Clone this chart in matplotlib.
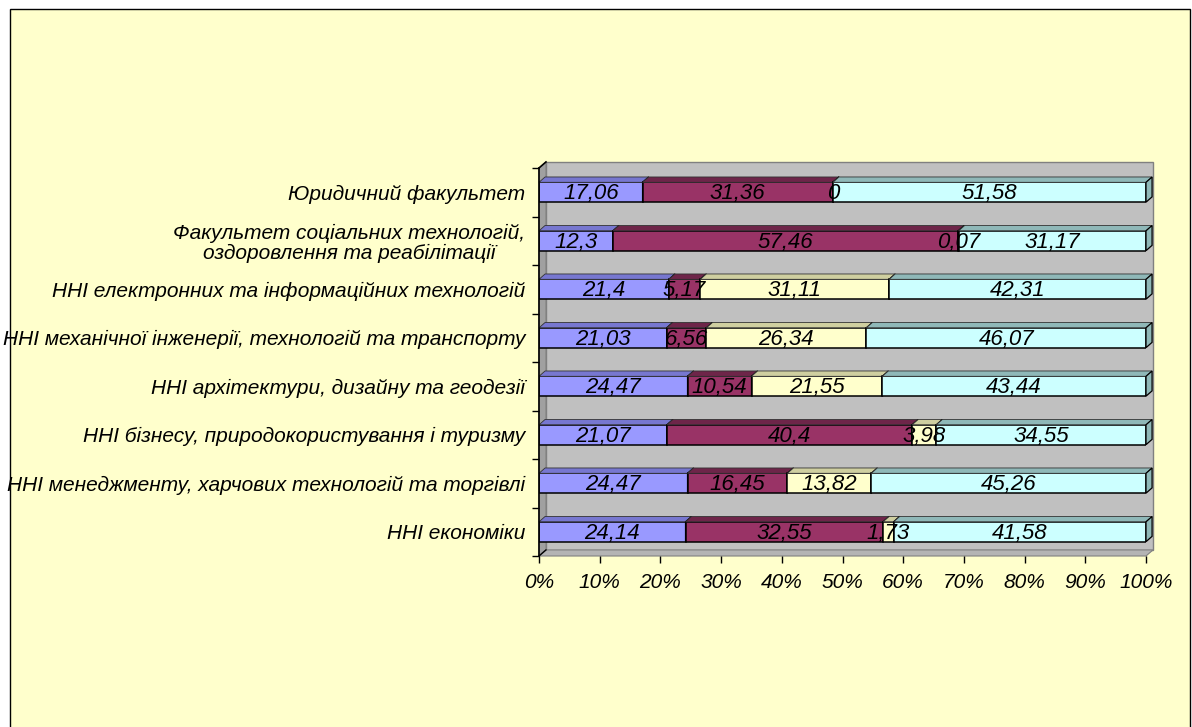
import matplotlib.pyplot as plt
import numpy as np
import matplotlib.patches as mpatches

# Daten (Werte in %, Reihenfolge von oben nach unten)
categories = [
    "Юридичний факультет",
    "Факультет соціальних технологій,\nоздоровлення та реабілітації",
    "ННІ електронних та інформаційних технологій",
    "ННІ механічної інженерії, технологій та транспорту",
    "ННІ архітектури, дизайну та геодезії",
    "ННІ бізнесу, природокористування і туризму",
    "ННІ менеджменту, харчових технологій та торгівлі",
    "ННІ економіки",
]
series_1 = [17.06, 12.3, 21.4, 21.03, 24.47, 21.07, 24.47, 24.14]
series_2 = [31.36, 57.46, 5.17, 6.56, 10.54, 40.4, 16.45, 32.55]
series_3 = [0, 0.07, 31.11, 26.34, 21.55, 3.98, 13.82, 1.73]
series_4 = [51.58, 31.17, 42.31, 46.07, 43.44, 34.55, 45.26, 41.58]
x_ticks = [0, 10, 20, 30, 40, 50, 60, 70, 80, 90, 100]

front_colors = ['#9999FF', '#993366', '#FFFFCC', '#CCFFFF']
top_colors = ['#7777D0', '#6E2549', '#CFCFA0', '#8FB8B8']

plt.rcParams['font.family'] = ['Liberation Sans', 'DejaVu Sans']
plt.rcParams['font.style'] = 'italic'
FS = 15

W, H = 1192, 727
fig = plt.figure(figsize=(W / 100, H / 100), dpi=100)
fig.patch.set_facecolor('white')

# Rahmen (gelb)
frame = mpatches.Rectangle((10 / W, -0.01), 1180 / W, 1 - 9 / H + 0.01,
                           transform=fig.transFigure, facecolor='#FFFFCC',
                           edgecolor='black', linewidth=1.0, zorder=-10)
fig.patches.append(frame)

ax = fig.add_axes([539 / W, 1 - 556 / H, 607 / W, 388 / H])
ax.set_facecolor('none')
for s in ax.spines.values():
    s.set_visible(False)

n = len(categories)
ax.set_xlim(0, 100)
ax.set_ylim(n - 0.5, -0.5)

# Tiefe der Wände / Balken in Dateneinheiten
wdx, wdy = 1.15, -0.125
bdx, bdy = 1.0, -0.11
bar_h = 0.41

y0, y1 = -0.5, n - 0.5
# Rückwand
ax.add_patch(mpatches.Rectangle((wdx, y0 + wdy), 100, n, facecolor='#C0C0C0',
                                edgecolor='#808080', linewidth=1.0, zorder=1, clip_on=False))
# linke Wand
ax.add_patch(mpatches.Polygon([(0, y0), (wdx, y0 + wdy), (wdx, y1 + wdy), (0, y1)],
                              closed=True, facecolor='#A0A0A0', edgecolor='#808080',
                              linewidth=0.8, zorder=1.5, clip_on=False))
# Boden
ax.add_patch(mpatches.Polygon([(0, y1), (wdx, y1 + wdy), (100 + wdx, y1 + wdy), (100, y1)],
                              closed=True, facecolor='#B4B4B4', edgecolor='#808080',
                              linewidth=0.8, zorder=1.5, clip_on=False))

data = np.array([series_1, series_2, series_3, series_4])
totals = data.sum(axis=0)
pct = data / totals * 100
ypos = np.arange(n)

left = np.zeros(n)
for k in range(4):
    ax.barh(ypos, pct[k], left=left, height=bar_h, color=front_colors[k],
            edgecolor='black', linewidth=1.1, zorder=3 + k)
    for i in range(n):
        l, r = left[i], left[i] + pct[k][i]
        yt, yb = ypos[i] - bar_h / 2, ypos[i] + bar_h / 2
        ax.add_patch(mpatches.Polygon([(l, yt), (l + bdx, yt + bdy), (r + bdx, yt + bdy), (r, yt)],
                                      closed=True, facecolor=top_colors[k], edgecolor='#333333',
                                      linewidth=0.6, zorder=3 + k, clip_on=False))
        ax.add_patch(mpatches.Polygon([(r, yt), (r + bdx, yt + bdy), (r + bdx, yb + bdy), (r, yb)],
                                      closed=True, facecolor=top_colors[k], edgecolor='black',
                                      linewidth=0.9, zorder=3 + k, clip_on=False))
    left = left + pct[k]

# Wertbeschriftungen
left = np.zeros(n)
for k in range(4):
    for i in range(n):
        v = data[k][i]
        txt = ('%g' % v).replace('.', ',')
        ax.text(left[i] + pct[k][i] / 2, ypos[i] + 0.03, txt, ha='center', va='center',
                fontsize=16, style='italic', zorder=10)
    left = left + pct[k]

# Achsenlinien
ax.plot([0, 0], [y0, y1], color='black', linewidth=1.2, zorder=9, clip_on=False)
ax.plot([0, wdx], [y0, y0 + wdy], color='black', linewidth=1.2, zorder=9, clip_on=False)
ax.plot([0, wdx], [y1, y1 + wdy], color='black', linewidth=1.0, zorder=9, clip_on=False)

ax.set_yticks(ypos)
ax.set_yticklabels(categories, fontsize=FS, style='italic')
for t in ax.get_yticklabels():
    t.set_multialignment('center')
    t.set_linespacing(1.1)
ax.set_yticks(np.arange(n + 1) - 0.5, minor=True)
ax.tick_params(axis='y', which='major', length=0, pad=10)
ax.tick_params(axis='y', which='minor', length=5, width=1, direction='out')

ax.set_xticks(x_ticks)
ax.set_xticklabels(['%d%%' % t for t in x_ticks], fontsize=FS, style='italic')
ax.tick_params(axis='x', length=5, width=1, direction='out', pad=7)

fig.savefig('out.png', dpi=100)
